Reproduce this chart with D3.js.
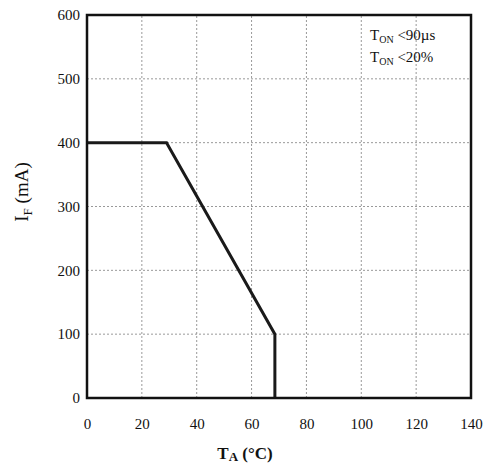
<!DOCTYPE html>
<html>
<head>
<meta charset="utf-8">
<script src="https://cdn.jsdelivr.net/npm/d3@7/dist/d3.min.js"></script>
<style>
  body { margin: 0; background: #fff; }
  text { font-family: "Liberation Serif", "DejaVu Serif", serif; fill: #111; }
  .grid line { stroke: #999; stroke-width: 1; stroke-dasharray: 2,2; }
</style>
</head>
<body>
<script>
// data
var tempC = [0, 29, 68.5, 68.5];
var currentMA = [400, 400, 100, 0];
var xTicks = [0, 20, 40, 60, 80, 100, 120, 140];
var yTicks = [0, 100, 200, 300, 400, 500, 600];
var notes = [["T", "ON", " <90\u00b5s"], ["T", "ON", " <20%"]];

var W = 485, H = 472;
var m = {left: 87, right: 14, top: 15, bottom: 74};

var svg = d3.select("body").append("svg").attr("width", W).attr("height", H);

var x = d3.scaleLinear().domain([0, 140]).range([m.left, W - m.right]);
var y = d3.scaleLinear().domain([0, 600]).range([H - m.bottom, m.top]);

// grid
var grid = svg.append("g").attr("class", "grid");
grid.selectAll(".v").data(xTicks.slice(1, -1)).enter().append("line")
  .attr("x1", d => x(d)).attr("x2", d => x(d))
  .attr("y1", y(0)).attr("y2", y(600));
grid.selectAll(".h").data(yTicks.slice(1, -1)).enter().append("line")
  .attr("x1", x(0)).attr("x2", x(140))
  .attr("y1", d => y(d)).attr("y2", d => y(d));

// axes (labels only, frame drawn separately)
var xAxis = svg.append("g").attr("transform", "translate(0," + y(0) + ")")
  .call(d3.axisBottom(x).tickValues(xTicks).tickSize(0).tickPadding(20));
var yAxis = svg.append("g").attr("transform", "translate(" + x(0) + ",0)")
  .call(d3.axisLeft(y).tickValues(yTicks).tickSize(0).tickPadding(7));
[xAxis, yAxis].forEach(function (a) {
  a.select(".domain").remove();
  a.selectAll("text").style("font-size", "15px")
    .style("font-family", "Liberation Serif, serif").attr("fill", "#111");
});

// curve
var line = d3.line().x(d => x(d[0])).y(d => y(d[1]));
svg.append("path")
  .datum(tempC.map((t, i) => [t, currentMA[i]]))
  .attr("d", line)
  .attr("fill", "none").attr("stroke", "#1a1a1a").attr("stroke-width", 3)
  .attr("stroke-linejoin", "miter");

// frame
svg.append("rect")
  .attr("x", x(0)).attr("y", y(600))
  .attr("width", x(140) - x(0)).attr("height", y(0) - y(600))
  .attr("fill", "none").attr("stroke", "#111").attr("stroke-width", 2.5);

// notes
notes.forEach(function (n, i) {
  var t = svg.append("text").attr("x", 370).attr("y", 40 + i * 22).style("font-size", "15px");
  t.append("tspan").text(n[0]);
  t.append("tspan").attr("dy", 3).style("font-size", "10px").text(n[1]);
  t.append("tspan").attr("dy", -3).text(n[2]);
});

// axis titles
var xt = svg.append("text").attr("x", 245).attr("y", 459)
  .attr("text-anchor", "middle").style("font-size", "17px").style("font-weight", "bold");
xt.append("tspan").text("T");
xt.append("tspan").attr("dy", 2).style("font-size", "13px").text("A");
xt.append("tspan").attr("dy", -2).text(" (\u00b0C)");

var yt = svg.append("text").attr("transform", "translate(28,192) rotate(-90)")
  .attr("text-anchor", "middle").style("font-size", "19px");
yt.append("tspan").text("I");
yt.append("tspan").attr("dy", 4).style("font-size", "13px").text("F");
yt.append("tspan").attr("dy", -4).text(" (mA)");
</script>
</body>
</html>
